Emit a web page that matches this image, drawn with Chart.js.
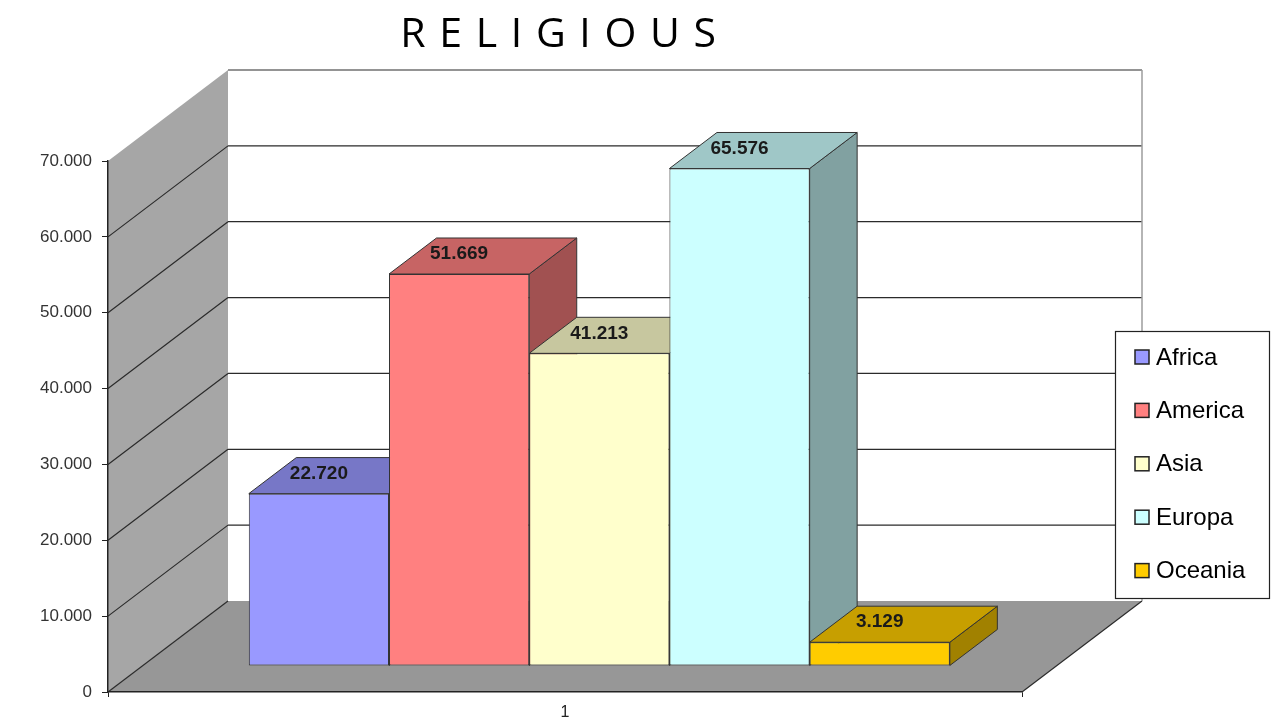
<!DOCTYPE html>
<html>
<head>
<meta charset="utf-8">
<title>Religious</title>
<script src="https://cdn.jsdelivr.net/npm/chart.js@4.4.1/dist/chart.umd.min.js"></script>
<style>
  html, body { margin: 0; padding: 0; background: #fff; }
  #wrap { width: 1287px; height: 722px; position: relative; }
</style>
</head>
<body>
<div id="wrap"><canvas id="religiousChart"></canvas></div>
<script>
// Datos del grafico
const categories = ['1'];
const seriesNames = ['Africa', 'America', 'Asia', 'Europa', 'Oceania'];
const seriesValues = [22720, 51669, 41213, 65576, 3129];
const yTicks = [0, 10000, 20000, 30000, 40000, 50000, 60000, 70000];

const seriesColors = ['#9999FF', '#FF8080', '#FFFFCC', '#CCFFFF', '#FFCC00'];

const ARIAL = '"Liberation Sans", Arial, sans-serif';

// Perspectiva "3D" al estilo Excel
const DEPTH = { dx: 120, dy: -91 };  // profundidad total del suelo
const BAR_FRONT = 0.286;             // las barras empiezan un poco dentro
const BAR_DEPTH = 0.396;             // grosor de cada barra

function fmt(v) {
    return String(v).replace(/\B(?=(\d{3})+(?!\d))/g, '.');
}

function shade(hex, f) {
    const n = parseInt(hex.slice(1), 16);
    const r = Math.round(((n >> 16) & 255) * f);
    const g = Math.round(((n >> 8) & 255) * f);
    const b = Math.round((n & 255) * f);
    return `rgb(${r},${g},${b})`;
}

function poly(ctx, pts, fill, stroke) {
    ctx.beginPath();
    ctx.moveTo(pts[0][0], pts[0][1]);
    for (let i = 1; i < pts.length; i++) ctx.lineTo(pts[i][0], pts[i][1]);
    ctx.closePath();
    if (fill) { ctx.fillStyle = fill; ctx.fill(); }
    if (stroke) { ctx.strokeStyle = stroke; ctx.stroke(); }
}

// Paredes, suelo y rejilla
const wallsPlugin = {
    id: 'walls3d',
    beforeDraw(chart) {
        const { ctx, chartArea: a, scales: { y } } = chart;
        const dx = DEPTH.dx, dy = DEPTH.dy;
        const y0 = y.getPixelForValue(y.min);
        const yTop = y.getPixelForValue(y.max);
        ctx.save();
        // pared izquierda
        poly(ctx, [[a.left, y0], [a.left, yTop], [a.left + dx, yTop + dy], [a.left + dx, y0 + dy]], '#a6a6a6');
        // suelo
        poly(ctx, [[a.left, y0], [a.left + dx, y0 + dy], [a.right + dx, y0 + dy], [a.right, y0]], '#979797');

        ctx.strokeStyle = '#2b2b2b';
        ctx.lineWidth = 1.2;
        y.ticks.forEach(t => {
            const py = y.getPixelForValue(t.value);
            ctx.beginPath();
            if (t.value < y.max) { // linea inclinada en la pared lateral
                ctx.moveTo(a.left, py);
                ctx.lineTo(a.left + dx, py + dy);
            }
            if (t.value > y.min) { // linea horizontal en la pared del fondo
                ctx.moveTo(a.left + dx, py + dy);
                ctx.lineTo(a.right + dx, py + dy);
            }
            ctx.stroke();
        });
        // borde derecho del suelo
        ctx.beginPath();
        ctx.moveTo(a.right, y0);
        ctx.lineTo(a.right + dx, y0 + dy);
        ctx.stroke();
        // borde derecho de la pared del fondo (gris claro)
        ctx.strokeStyle = '#9c9c9c';
        ctx.lineWidth = 1.5;
        ctx.beginPath();
        ctx.moveTo(a.right + dx, yTop + dy);
        ctx.lineTo(a.right + dx, y0 + dy);
        ctx.stroke();
        ctx.restore();
    }
};

// Caras superior y lateral de las barras + etiquetas
const bars3dPlugin = {
    id: 'bars3d',
    beforeDatasetsDraw(chart) {
        const ctx = chart.ctx;
        ctx.save();
        ctx.translate(DEPTH.dx * BAR_FRONT, DEPTH.dy * BAR_FRONT);
        const ddx = DEPTH.dx * BAR_DEPTH, ddy = DEPTH.dy * BAR_DEPTH;
        ctx.lineWidth = 1;
        ctx.lineJoin = 'round';
        chart.data.datasets.forEach((ds, i) => {
            const bar = chart.getDatasetMeta(i).data[0];
            if (!bar) return;
            const { x, y, base, width } = bar.getProps(['x', 'y', 'base', 'width'], true);
            const l = x - width / 2, r = x + width / 2;
            poly(ctx, [[r, y], [r + ddx, y + ddy], [r + ddx, base + ddy], [r, base]], shade(ds.backgroundColor, 0.63), '#333');
            poly(ctx, [[l, y], [l + ddx, y + ddy], [r + ddx, y + ddy], [r, y]], shade(ds.backgroundColor, 0.78), '#333');
        });
    },
    afterDatasetsDraw(chart) {
        const ctx = chart.ctx;
        const ddy = DEPTH.dy * BAR_DEPTH;
        ctx.font = `bold 19px ${ARIAL}`;
        ctx.fillStyle = '#1a1a1a';
        ctx.textAlign = 'center';
        ctx.textBaseline = 'middle';
        chart.data.datasets.forEach((ds, i) => {
            const bar = chart.getDatasetMeta(i).data[0];
            if (!bar) return;
            const { x, y } = bar.getProps(['x', 'y'], true);
            ctx.fillText(fmt(ds.data[0]), x, y + ddy / 2 - 2);
        });
        ctx.restore(); // quita el translate de beforeDatasetsDraw
    }
};

// Leyenda con recuadro (como en Excel)
const legendBoxPlugin = {
    id: 'legendBox',
    afterDraw(chart) {
        const ctx = chart.ctx;
        const box = { x: 1115, y: 331, w: 154, h: 267 };
        ctx.save();
        ctx.fillStyle = '#fff';
        ctx.fillRect(box.x, box.y, box.w, box.h);
        ctx.strokeStyle = '#222';
        ctx.lineWidth = 1.2;
        ctx.strokeRect(box.x + 0.5, box.y + 0.5, box.w, box.h);
        ctx.font = `24px ${ARIAL}`;
        ctx.textBaseline = 'middle';
        ctx.textAlign = 'left';
        chart.data.datasets.forEach((ds, i) => {
            const cy = box.y + 26 + i * 53.4;
            ctx.fillStyle = ds.backgroundColor;
            ctx.fillRect(box.x + 20, cy - 7, 14, 14);
            ctx.strokeStyle = '#222';
            ctx.lineWidth = 1.5;
            ctx.strokeRect(box.x + 20, cy - 7, 14, 14);
            ctx.fillStyle = '#000';
            ctx.fillText(ds.label, box.x + 41, cy + 1);
        });
        ctx.restore();
    }
};

const datasets = seriesNames.map((name, i) => ({
    label: name,
    data: [seriesValues[i]],
    backgroundColor: seriesColors[i],
    borderColor: '#333',
    borderWidth: 1,
    borderSkipped: false,
    categoryPercentage: 0.767,
    barPercentage: 1,
    clip: false
}));

new Chart(document.getElementById('religiousChart'), {
    type: 'bar',
    data: { labels: categories, datasets: datasets },
    options: {
        responsive: true,
        maintainAspectRatio: false,
        animation: false,
        events: [],
        layout: { padding: { left: 0, right: 265, top: 0, bottom: 0 } },
        plugins: {
            legend: { display: false },
            tooltip: { enabled: false },
            title: {
                display: true,
                // espacios de 1/3 em para imitar el espaciado del titulo original
                text: 'R\u2004E\u2004L\u2004I\u2004G\u2004I\u2004O\u2004U\u2004S\u2004',
                fullSize: false,
                color: '#000',
                font: { family: '"Open Sans", sans-serif', size: 41, weight: 'normal' },
                padding: { top: 11, bottom: 100.8 }
            }
        },
        scales: {
            x: {
                grid: { drawOnChartArea: false, drawTicks: true, tickLength: 5, tickColor: '#222', offset: true },
                border: { display: true, color: '#222', width: 1.5 },
                ticks: { color: '#222', font: { family: ARIAL, size: 16 }, padding: 6 },
                afterFit(scale) { scale.height = 30; }
            },
            y: {
                min: 0,
                max: 70000,
                afterBuildTicks(scale) { scale.ticks = yTicks.map(v => ({ value: v })); },
                grid: { drawOnChartArea: false, drawTicks: true, tickLength: 6, tickColor: '#222' },
                border: { display: true, color: '#222', width: 1.5 },
                ticks: {
                    color: '#333',
                    font: { family: ARIAL, size: 17 },
                    padding: 10,
                    callback: v => fmt(v)
                },
                afterFit(scale) { scale.width = 108; }
            }
        }
    },
    plugins: [wallsPlugin, bars3dPlugin, legendBoxPlugin]
});
</script>
</body>
</html>
